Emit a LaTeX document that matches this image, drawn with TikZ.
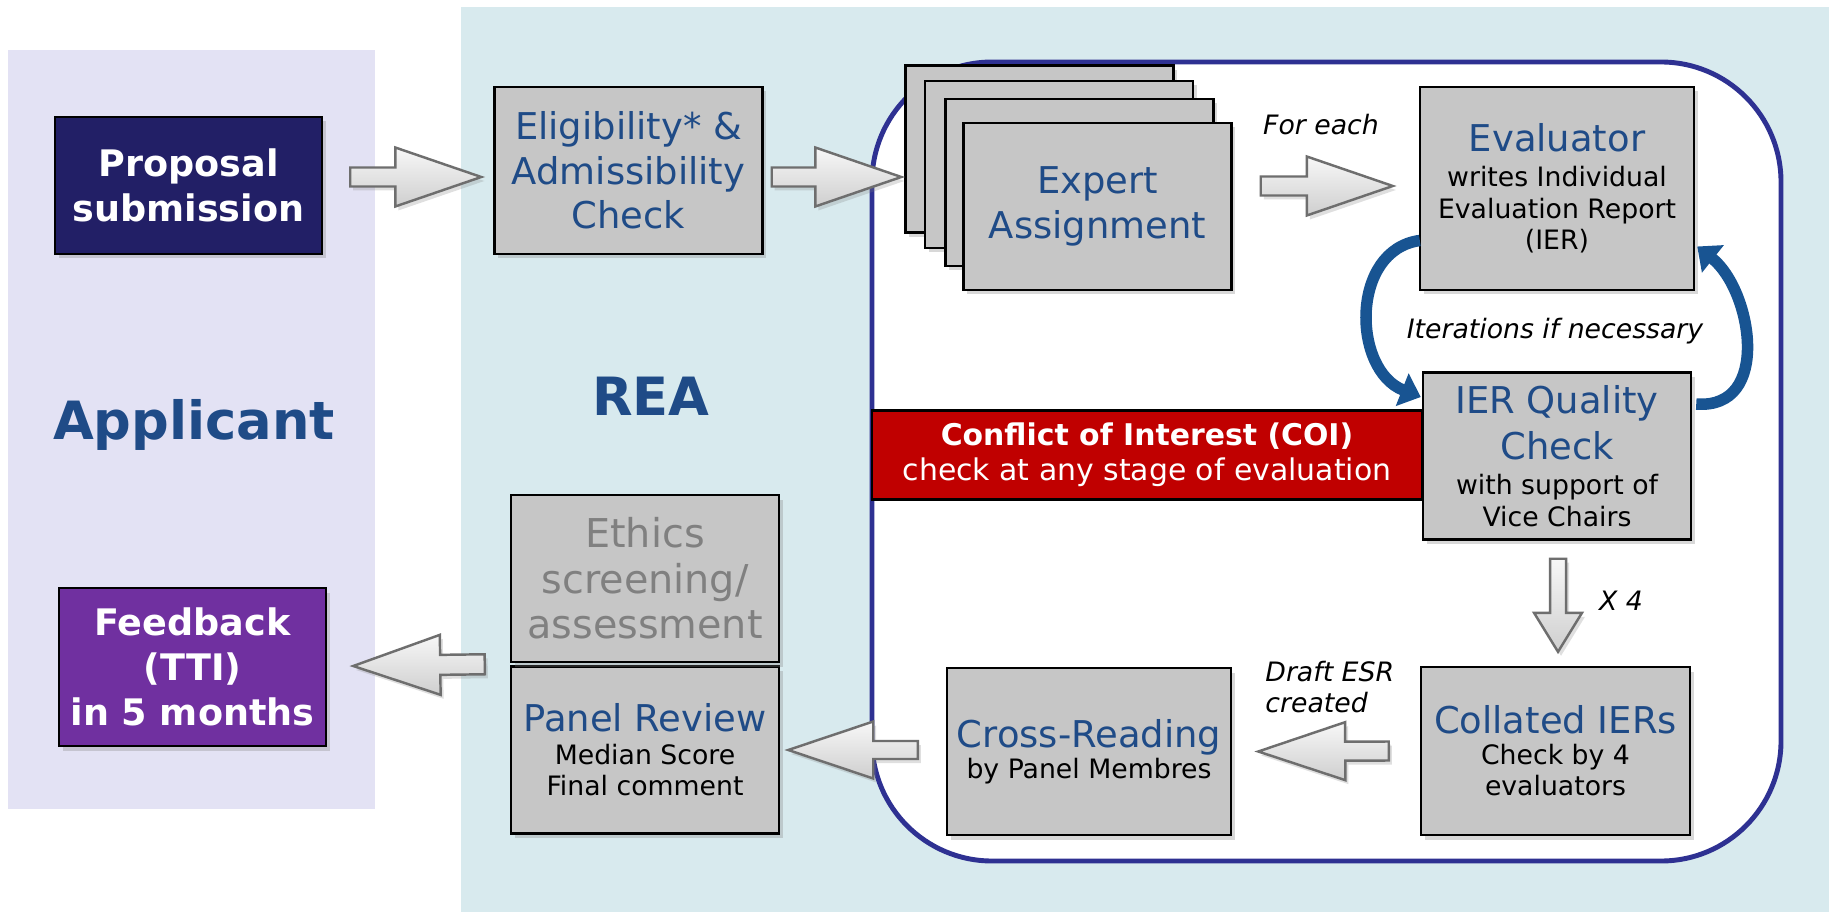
\documentclass[tikz,border=0pt]{standalone}
\usepackage{fontspec}
\setmainfont{DejaVu Sans}
\usetikzlibrary{calc,shadows,arrows.meta}
\definecolor{reablue}{RGB}{31,75,135}
\definecolor{navybox}{RGB}{34,31,102}
\definecolor{purplebox}{RGB}{112,48,160}
\definecolor{coired}{RGB}{192,0,0}
\definecolor{boxgray}{RGB}{198,198,198}
\definecolor{applbg}{RGB}{227,226,244}
\definecolor{reabg}{RGB}{216,234,238}
\definecolor{framecol}{RGB}{46,49,146}
\definecolor{ethicsgray}{RGB}{128,128,128}
\definecolor{curveblue}{RGB}{24,84,146}
\definecolor{arrowedge}{RGB}{110,110,110}
\newcommand{\titlefont}{\fontsize{10.5}{12.7}\selectfont}
\newcommand{\subfont}{\fontsize{7.6}{9}\selectfont\color{black}}
\newcommand{\blockarrow}[5]{
	\coordinate (hb) at ($(#2)!#5!(#1)$);
	\draw[blockarrow] ($(#1)!#3!90:(#2)$) -- ($(hb)!#3!-90:(#1)$) -- ($(hb)!#4!-90:(#1)$) -- (#2)
		-- ($(hb)!#4!90:(#1)$) -- ($(hb)!#3!90:(#1)$) -- ($(#1)!#3!-90:(#2)$) -- cycle;
}
\tikzset{
	graybox/.style={draw=black, line width=0.7pt, fill=boxgray, align=center, inner sep=0pt,
		minimum width=26.8mm, minimum height=16.7mm,
		drop shadow={shadow xshift=0.35mm, shadow yshift=-0.45mm, opacity=0.3}},
	titlebox/.style={graybox, text=reablue, font=\titlefont},
	subbox/.style={graybox, text=reablue, font=\fontsize{7.6}{9}\selectfont},
	darkbox/.style={draw=black, line width=0.7pt, align=center, inner sep=0pt, text=white,
		font=\bfseries\fontsize{10.4}{12.8}\selectfont,
		drop shadow={shadow xshift=0.35mm, shadow yshift=-0.45mm, opacity=0.3}},
	bigtext/.style={text=reablue, font=\bfseries\fontsize{15}{18}\selectfont},
	notelabel/.style={font=\itshape\fontsize{7.6}{9}\selectfont},
	blockarrow/.style={draw=arrowedge, line width=0.7pt, top color=gray!6, bottom color=gray!38,
		drop shadow={shadow xshift=0.3mm, shadow yshift=-0.4mm, opacity=0.25}},
	iterarrow/.style={draw=curveblue, line width=1.15mm, -{Triangle[length=2mm, width=3.4mm]}}
}
\begin{document}
\begin{tikzpicture}[x=0.1mm,y=-0.1mm]
	\useasboundingbox (0,0) rectangle (1829,912);
	% panels
	\fill[applbg] (8,50) rectangle (375,809);
	\fill[reabg] (461,7) rectangle (1829,912);
	\draw[framecol, line width=1.4pt, fill=white, rounded corners=12mm] (872,62) rectangle (1781,861);

	\node[bigtext] (appl) at (194,425) {Applicant};
	\node[bigtext] (rea) at (651,396) {REA};

	% boxes
	\node[darkbox, fill=navybox, minimum width=26.7mm, minimum height=13.7mm] (prop) at (188.5,185.5) {Proposal\\submission};
	\node[darkbox, fill=purplebox, minimum width=26.7mm, minimum height=15.8mm] (feed) at (192.5,667) {Feedback\\(TTI)\\in 5 months};
	\node[titlebox] (elig) at (628.5,170.5) {Eligibility* \&\\Admissibility\\Check};
	\node[graybox] (exp1) at (1039.5,149) {};
	\node[graybox] (exp2) at (1059,164.5) {};
	\node[graybox] (exp3) at (1079.5,182.5) {};
	\node[titlebox] (exp4) at (1097.5,206.5) {Expert\\Assignment};
	\node[subbox, minimum width=27.4mm, minimum height=20.3mm] (eval) at (1557,188.5)
		{\titlefont Evaluator\\[0.9pt]\subfont writes Individual\\\subfont Evaluation Report\\\subfont (IER)};
	\node[subbox] (ier) at (1557,456)
		{\titlefont IER Quality\\[1.8pt]\titlefont Check\\[1.1pt]\subfont with support of\\\subfont Vice Chairs};
	\node[draw=black, line width=0.7pt, fill=coired, text=white, align=center, inner sep=0pt,
		minimum width=55mm, minimum height=8.9mm, font=\fontsize{8.5}{10}\selectfont] (coi) at (1147,455)
		{\bfseries Conflict of Interest (COI)\\check at any stage of evaluation};
	\node[subbox, minimum width=26.9mm, minimum height=16.8mm] (coll) at (1555.5,751)
		{\titlefont Collated IERs\\[-0.3pt]\subfont Check by 4\\\subfont evaluators};
	\node[subbox, minimum width=28.4mm] (cross) at (1089,751.5)
		{\titlefont Cross-Reading\\[-0.2pt]\subfont by Panel Membres};
	\node[subbox] (panel) at (645,750)
		{\titlefont Panel Review\\[0.3pt]\subfont Median Score\\\subfont Final comment};
	\node[graybox, text=ethicsgray, font=\fontsize{11.3}{12.9}\selectfont] (ethics) at (645,578.5)
		{Ethics\\screening/\\assessment};

	% labels
	\node[notelabel] (foreach) at (1321,125) {For each};
	\node[notelabel] (iter) at (1555,331) {Iterations if necessary};
	\node[notelabel] (times) at (1621,601) {X 4};
	\node[notelabel, anchor=west, align=left] (draft) at (1253,687) {Draft ESR\\created};

	% block arrows
	\coordinate (p1) at ($(prop.east)+(27,-8.5)$);
	\coordinate (q1) at ($(elig.west)+(-12,6.5)$);
	\coordinate (p2) at ($(elig.east)+(8,6.5)$);
	\coordinate (q2) at ($(exp1.west)+(-3,28)$);
	\coordinate (p3) at ($(exp4.east)+(28,-20.5)$);
	\coordinate (q3) at ($(eval.west)+(-26,-2.5)$);
	\coordinate (p4) at ($(ier.south)+(1,18)$);
	\coordinate (q4) at ($(coll.north)+(2.5,-14)$);
	\coordinate (p5) at ($(coll.west)+(-31,0)$);
	\coordinate (q5) at ($(cross.east)+(26,0)$);
	\coordinate (p6) at ($(cross.west)+(-28,-1.5)$);
	\coordinate (q6) at ($(panel.east)+(8,0)$);
	\coordinate (p7) at ($(panel.north west)+(-25,-1)$);
	\coordinate (q7) at ($(feed.east)+(26,-1)$);
	\blockarrow{p1}{q1}{0.95mm}{2.95mm}{8.6mm}
	\blockarrow{p2}{q2}{0.95mm}{2.95mm}{8.6mm}
	\blockarrow{p3}{q3}{0.95mm}{2.95mm}{8.6mm}
	\blockarrow{p4}{q4}{0.8mm}{2.4mm}{3.9mm}
	\blockarrow{p5}{q5}{0.95mm}{2.9mm}{8.7mm}
	\blockarrow{p6}{q6}{0.9mm}{2.85mm}{8.5mm}
	\blockarrow{p7}{q7}{1mm}{3mm}{8.7mm}

	% iteration loop
	\draw[iterarrow] ($(eval.west)+(1,52)$) .. controls (1350,250) and (1352,370) .. ($(ier.west)+(-1,-59)$);
	\draw[iterarrow] ($(ier.east)+(4,-52)$) .. controls (1772,410) and (1752,290) .. ($(eval.east)+(2,58)$);
\end{tikzpicture}
\end{document}
